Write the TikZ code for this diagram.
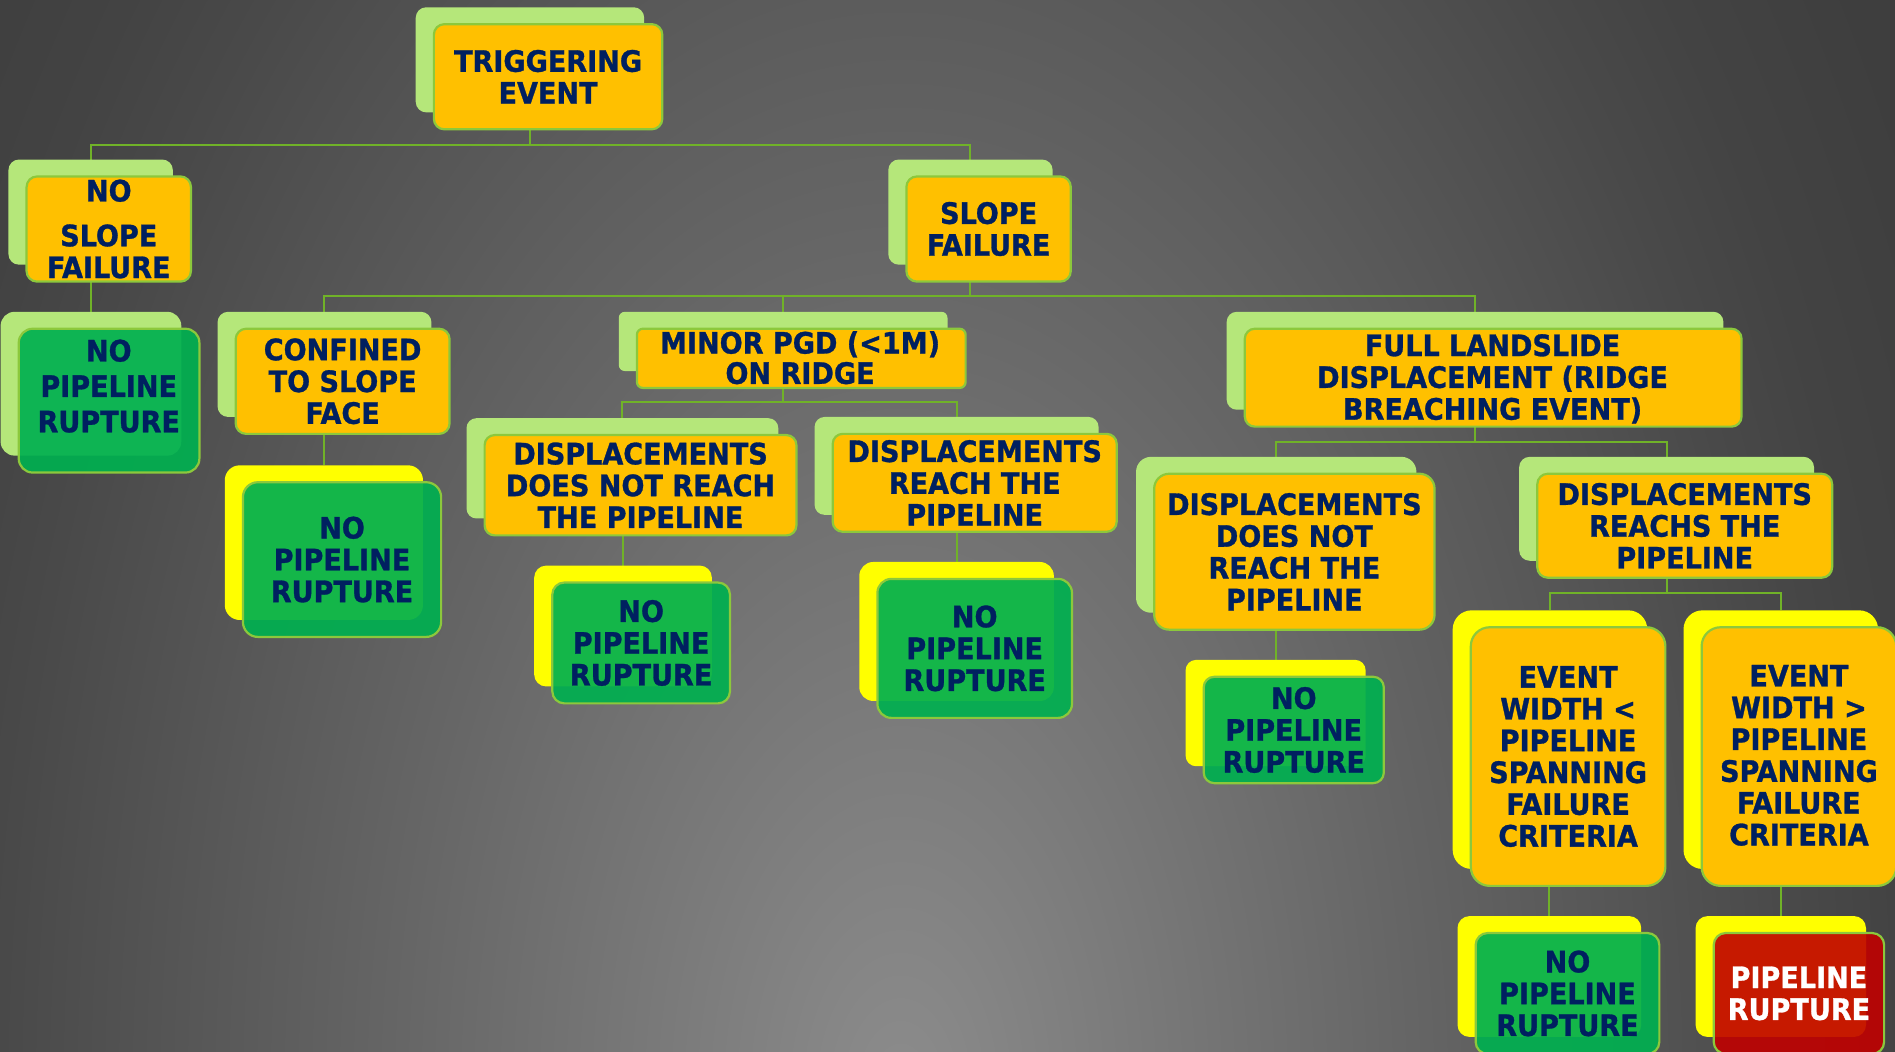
\documentclass[tikz,border=0pt]{standalone}
\usepackage{fontspec}
\newfontfamily\boxfont{DejaVu Sans Condensed Bold}[FakeStretch=1.02,FakeBold=1]
\usetikzlibrary{fit}
\definecolor{navy}{RGB}{0,32,96}
\definecolor{orangefill}{RGB}{255,192,0}
\definecolor{bordergreen}{RGB}{140,200,60}
\definecolor{linegreen}{RGB}{112,178,40}
\definecolor{shgreen}{RGB}{181,231,122}
\definecolor{shyellow}{RGB}{255,255,0}
\definecolor{greenfill}{RGB}{0,176,80}
\definecolor{redfill}{RGB}{192,0,0}
\definecolor{bgc0}{RGB}{140,140,140}
\definecolor{bgc1}{RGB}{102,102,102}
\definecolor{bgc2}{RGB}{73,73,73}
\definecolor{bgc3}{RGB}{67,67,67}
\definecolor{bgc4}{RGB}{62,62,62}
\pgfdeclareradialshading{bgshade}{\pgfpoint{0bp}{0bp}}{color(0bp)=(bgc0); color(19.2bp)=(bgc1); color(34.6bp)=(bgc2); color(38.5bp)=(bgc3); color(44.2bp)=(bgc4); color(50bp)=(bgc4)}
\pgfdeclarelayer{bgl}
\pgfdeclarelayer{conl}
\pgfsetlayers{bgl,conl,main}
\tikzset{
  backg/.style={fill=shgreen, inner sep=0pt, outer sep=0pt},
  backy/.style={fill=shyellow, inner sep=0pt, outer sep=0pt},
  fbox/.style={draw=bordergreen, line width=2.2pt, inner sep=0pt, outer sep=0pt},
  orangebox/.style={fbox, fill=orangefill},
  greenbox/.style={fbox, fill=greenfill, fill opacity=0.92},
  redbox/.style={fbox, fill=redfill, fill opacity=0.9},
  txt/.style={inner sep=0pt, align=center, text=navy, font=\boxfont\fontsize{29.5}{31.8}\selectfont},
  txtw/.style={txt, text=white},
  conn/.style={draw=linegreen, line width=2pt},
}
\begin{document}
\begin{tikzpicture}[x=1.2086pt, y=-1.2086pt]
\useasboundingbox (0,0) rectangle (1568,870);
\begin{pgfonlayer}{bgl}
  \fill[bgc4] (0,0) rectangle (1568,870);
  \begin{pgfscope}
    \pgfpathrectangle{\pgfpointxy{0}{0}}{\pgfpointxy{1568}{870}}
    \pgfusepath{clip}
    \pgftransformshift{\pgfpointxy{745}{910}}
    \pgftransformxscale{25.9}
    \pgftransformyscale{44.7}
    \pgflowlevelsynccm
    \pgfuseshading{bgshade}
  \end{pgfscope}
\end{pgfonlayer}

% TRIGGERING EVENT
\node[backg, rounded corners=10.5pt, fit={(344,6)(533,93)}] (Tb) {};
\node[orangebox, rounded corners=10.5pt, fit={(359,20)(548,107)}] (T) {};
\node[txt] (Tt) at (T.center) {TRIGGERING\\EVENT};
% NO SLOPE FAILURE
\node[backg, rounded corners=10.5pt, fit={(7,132)(143,219)}] (NSb) {};
\node[orangebox, rounded corners=10.5pt, fit={(22,146)(158,233)}] (NS) {};
\node[txt] (NSt) at (NS.center) {NO\\[13pt]SLOPE\\FAILURE};
% SLOPE FAILURE
\node[backg, rounded corners=10.5pt, fit={(735,132)(871,219)}] (SFb) {};
\node[orangebox, rounded corners=10.5pt, fit={(750,146)(886,233)}] (SF) {};
\node[txt] (SFt) at (SF.center) {SLOPE\\FAILURE};
% NO PIPELINE RUPTURE (1)
\node[backg, rounded corners=14pt, fit={(0.5,258)(150,377)}] (N1b) {};
\node[greenbox, rounded corners=14pt, fit={(15.5,272)(165,391)}] (N1) {};
\node[txt] (N1t) at (90,319.5) {NO\\[3.6pt]PIPELINE\\[3.6pt]RUPTURE};
% CONFINED TO SLOPE FACE
\node[backg, rounded corners=10.5pt, fit={(180,258)(357,345)}] (CSb) {};
\node[orangebox, rounded corners=10.5pt, fit={(195,272)(372,359)}] (CS) {};
\node[txt] (CSt) at (CS.center) {CONFINED\\TO SLOPE\\FACE};
% NO PIPELINE RUPTURE (2)
\node[backy, rounded corners=15pt, fit={(186,385)(350,513)}] (N2b) {};
\node[greenbox, rounded corners=15pt, fit={(201,399)(365,527)}] (N2) {};
\node[txt] (N2t) at (N2.center) {NO\\PIPELINE\\RUPTURE};
% MINOR PGD
\node[backg, rounded corners=6pt, fit={(512,258)(784,307)}] (MPb) {};
\node[orangebox, rounded corners=6pt, fit={(527,272)(799,321)}] (MP) {};
\node[txt] (MPt) at (662,296) {MINOR PGD (<1M)\\[-1.5pt]ON RIDGE};
% DISPLACEMENTS DOES NOT REACH (1)
\node[backg, rounded corners=10pt, fit={(386,346)(644,429)}] (D1b) {};
\node[orangebox, rounded corners=10pt, fit={(401,360)(659,443)}] (D1) {};
\node[txt] (D1t) at (D1.center) {DISPLACEMENTS\\DOES NOT REACH\\THE PIPELINE};
% DISPLACEMENTS REACH (1)
\node[backg, rounded corners=10pt, fit={(674,345)(909,426)}] (R1b) {};
\node[orangebox, rounded corners=10pt, fit={(689,359)(924,440)}] (R1) {};
\node[txt] (R1t) at (R1.center) {DISPLACEMENTS\\REACH THE\\PIPELINE};
% NO PIPELINE RUPTURE (3)
\node[backy, rounded corners=12pt, fit={(442,468)(589,568)}] (N3b) {};
\node[greenbox, rounded corners=12pt, fit={(457,482)(604,582)}] (N3) {};
\node[txt] (N3t) at (N3.center) {NO\\PIPELINE\\RUPTURE};
% NO PIPELINE RUPTURE (4)
\node[backy, rounded corners=14pt, fit={(711,465)(872,580)}] (N4b) {};
\node[greenbox, rounded corners=14pt, fit={(726,479)(887,594)}] (N4) {};
\node[txt] (N4t) at (N4.center) {NO\\PIPELINE\\RUPTURE};
% FULL LANDSLIDE
\node[backg, rounded corners=10pt, fit={(1015,258)(1426,339)}] (FLb) {};
\node[orangebox, rounded corners=10pt, fit={(1030,272)(1441,353)}] (FL) {};
\node[txt] (FLt) at (1235,313.5) {FULL LANDSLIDE\\DISPLACEMENT (RIDGE\\BREACHING EVENT)};
% DISPLACEMENTS DOES NOT REACH (2)
\node[backg, rounded corners=15pt, fit={(940,378)(1172,507)}] (D2b) {};
\node[orangebox, rounded corners=15pt, fit={(955,392)(1187,521)}] (D2) {};
\node[txt] (D2t) at (D2.center) {DISPLACEMENTS\\DOES NOT\\REACH THE\\PIPELINE};
% DISPLACEMENTS REACHS (2)
\node[backg, rounded corners=10.5pt, fit={(1257,378)(1501,464)}] (R2b) {};
\node[orangebox, rounded corners=10.5pt, fit={(1272,392)(1516,478)}] (R2) {};
\node[txt] (R2t) at (R2.center) {DISPLACEMENTS\\REACHS THE\\PIPELINE};
% NO PIPELINE RUPTURE (5)
\node[backy, rounded corners=10.5pt, fit={(981,546)(1130,634)}] (N5b) {};
\node[greenbox, rounded corners=10.5pt, fit={(996,560)(1145,648)}] (N5) {};
\node[txt] (N5t) at (N5.center) {NO\\PIPELINE\\RUPTURE};
% EVENT WIDTH <
\node[backy, rounded corners=19pt, fit={(1202,505)(1363,719)}] (E1b) {};
\node[orangebox, rounded corners=19pt, fit={(1217,519)(1378,733)}] (E1) {};
\node[txt] (E1t) at (E1.center) {EVENT\\WIDTH <\\PIPELINE\\SPANNING\\FAILURE\\CRITERIA};
% EVENT WIDTH >
\node[backy, rounded corners=19pt, fit={(1393,505)(1554,719)}] (E2b) {};
\node[orangebox, rounded corners=19pt, fit={(1408,519)(1569,733)}] (E2) {};
\node[txt] (E2t) at (1488.5,625) {EVENT\\WIDTH >\\PIPELINE\\SPANNING\\FAILURE\\CRITERIA};
% NO PIPELINE RUPTURE (6)
\node[backy, rounded corners=12pt, fit={(1206,758)(1358,858)}] (N6b) {};
\node[greenbox, rounded corners=12pt, fit={(1221,772)(1373,872)}] (N6) {};
\node[txt] (N6t) at (N6.center) {NO\\PIPELINE\\RUPTURE};
% PIPELINE RUPTURE
\node[backy, rounded corners=12pt, fit={(1403,758)(1544,858)}] (PRb) {};
\node[redbox, rounded corners=12pt, fit={(1418,772)(1559,872)}] (PR) {};
\node[txtw] (PRt) at (PR.center) {PIPELINE\\RUPTURE};

% bus levels
\coordinate (busT) at (0,120);
\coordinate (busSF) at (0,245);
\coordinate (busMP) at (0,333);
\coordinate (busFL) at (0,365.5);
\coordinate (busR2) at (0,491);

\begin{pgfonlayer}{conl}
  \draw[conn] (Tb.center |- T.south) -- (Tb.center |- busT) -| (NSb.north);
  \draw[conn] (Tb.center |- T.south) -- (Tb.center |- busT) -| (SFb.north);
  \draw[conn] (N1b.north |- NS.south) -- (N1b.north);
  \draw[conn] (SFb.center |- SF.south) -- (SFb.center |- busSF) -| (CSb.north);
  \draw[conn] (SFb.center |- SF.south) -- (SFb.center |- busSF) -| (MPb.north);
  \draw[conn] (SFb.center |- SF.south) -- (SFb.center |- busSF) -| (FLb.north);
  \draw[conn] (N2b.north |- CS.south) -- (N2b.north);
  \draw[conn] (MPb.center |- MP.south) -- (MPb.center |- busMP) -| (D1b.north);
  \draw[conn] (MPb.center |- MP.south) -- (MPb.center |- busMP) -| (R1b.north);
  \draw[conn] (N3b.north |- D1.south) -- (N3b.north);
  \draw[conn] (N4b.north |- R1.south) -- (N4b.north);
  \draw[conn] (FLb.center |- FL.south) -- (FLb.center |- busFL) -| (D2b.north);
  \draw[conn] (FLb.center |- FL.south) -- (FLb.center |- busFL) -| (R2b.north);
  \draw[conn] (N5b.north |- D2.south) -- (N5b.north);
  \draw[conn] (R2b.center |- R2.south) -- (R2b.center |- busR2) -| (E1b.north);
  \draw[conn] (R2b.center |- R2.south) -- (R2b.center |- busR2) -| (E2b.north);
  \draw[conn] (N6b.north |- E1.south) -- (N6b.north);
  \draw[conn] (PRb.north |- E2.south) -- (PRb.north);
\end{pgfonlayer}
\end{tikzpicture}
\end{document}
